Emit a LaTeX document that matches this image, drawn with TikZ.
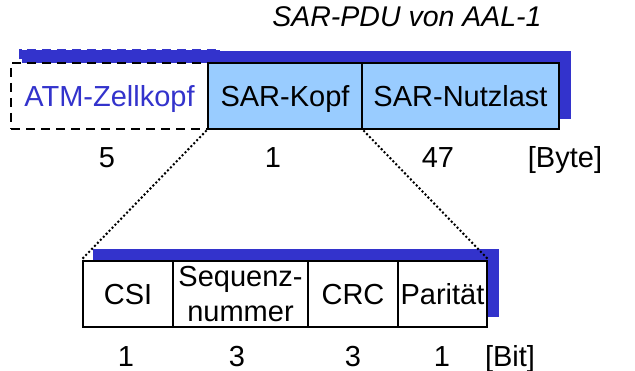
\documentclass[tikz,border=0pt]{standalone}
\usepackage{fontspec}
\setmainfont{Liberation Sans}
\usetikzlibrary{backgrounds}
\definecolor{shadowblue}{HTML}{3333CC}
\definecolor{cellblue}{HTML}{99CCFF}
\begin{document}
\begin{tikzpicture}[x=1pt,y=-1pt,
  font=\fontsize{29}{35}\selectfont,
  field/.style={draw=black, line width=2.8pt, minimum height=66pt,
    inner sep=0pt, text height=21pt, text depth=0pt},
  pdufield/.style={field, fill=cellblue},
  bitfield/.style={field, fill=white},
  headerfield/.style={field, fill=white, dash pattern=on 9pt off 6pt,
    text=shadowblue},
  shade/.style={fill=shadowblue},
  zoomline/.style={line width=2pt, dash pattern=on 2pt off 2.2pt},
  numlabel/.style={anchor=base, inner sep=0pt}]
\useasboundingbox (0,0) rectangle (635,371);

% title
\node[numlabel, font=\fontsize{28.5}{34}\selectfont\itshape] (title) at (407,27) {SAR-PDU von AAL-1};

% upper row: ATM cell header + SAR-PDU
\node[headerfield, minimum width=197pt] (atm)  at (109.5,96) {ATM-Zellkopf};
\node[pdufield, minimum width=154pt]    (kopf) at (285,96)   {SAR-Kopf};
\node[pdufield, minimum width=197pt]    (nutz) at (460.5,96) {SAR-Nutzlast};

% lower row: SAR header fields
\node[bitfield, minimum width=90pt]  (csi) at (128,294)   {CSI};
\node[field, fill=white, minimum width=135pt, text height=, text depth=,
  align=center] (seq) at (240.5,294) {Sequenz-\\nummer};
\node[bitfield, minimum width=90pt]  (crc) at (353,294)   {CRC};
\node[bitfield, minimum width=89pt]  (par) at (442.5,294) {Parität};

% drop shadows behind both rows
\begin{scope}[on background layer]
  \fill[shade] ([shift={(11,-11)}]kopf.north west) rectangle ([shift={(11,-11)}]nutz.south east);
  \fill[shade] ([shift={(12,-12)}]atm.north west) rectangle ([shift={(11,-11)}]atm.south east);
  \draw[shadowblue, line width=2.8pt, dash pattern=on 9pt off 6pt]
    ([shift={(11,-11)}]atm.south west) -- ([shift={(11,-11)}]atm.north west)
    -- ([shift={(11,-11)}]atm.north east);
  \fill[shade] ([shift={(11,-11)}]csi.north west) rectangle ([shift={(11,-11)}]par.south east);
\end{scope}

% zoom lines from the SAR header to its fields
\draw[zoomline] (kopf.south west) -- (csi.north west);
\draw[zoomline] (kopf.south east) -- (par.north east);

% sizes in bytes
\node[numlabel] (b5)  at (107,168) {5};
\node[numlabel] (b1)  at (273,168) {1};
\node[numlabel] (b47) at (438,168) {47};
\node[numlabel] (bu)  at (565,168) {[Byte]};

% sizes in bits
\node[numlabel] (t1) at (126,367) {1};
\node[numlabel] (t2) at (237,367) {3};
\node[numlabel] (t3) at (353,367) {3};
\node[numlabel] (t4) at (442,367) {1};
\node[numlabel] (tu) at (510,367) {[Bit]};
\end{tikzpicture}
\end{document}
